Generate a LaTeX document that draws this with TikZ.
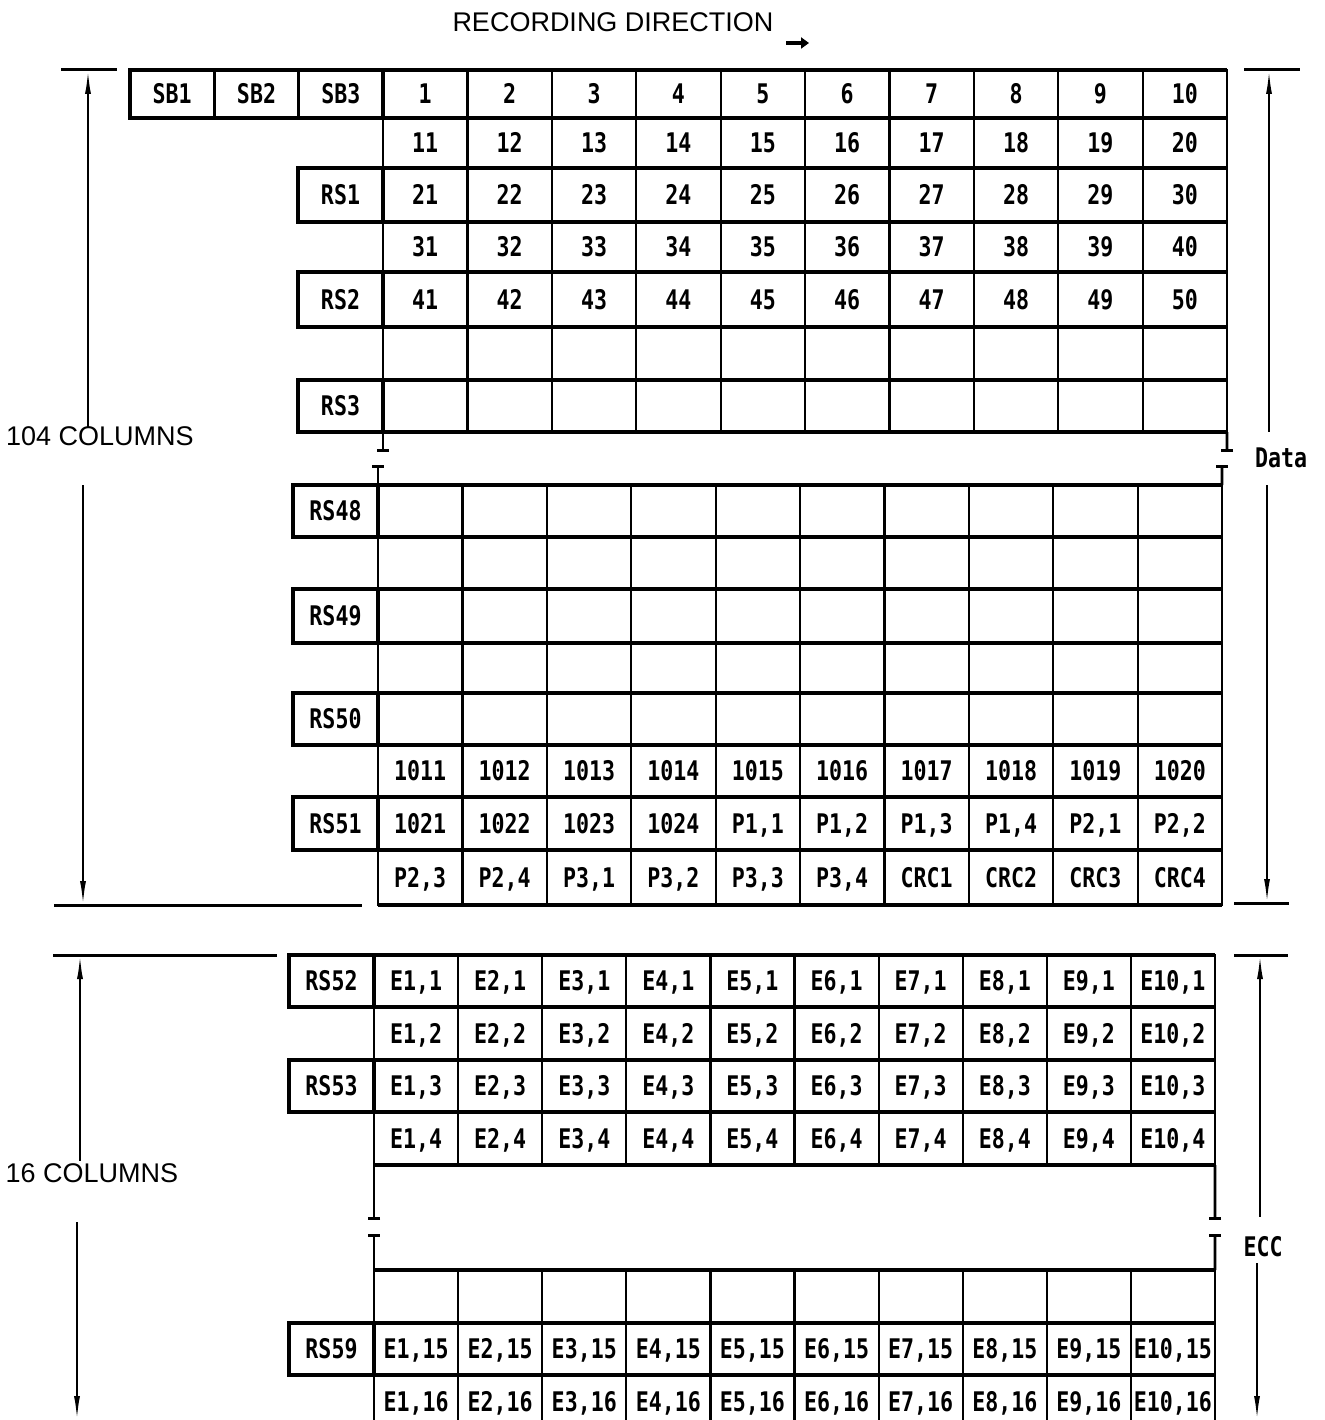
\documentclass[tikz,border=0pt]{standalone}
\usepackage{fontspec}
\setmainfont{Liberation Sans}
\newfontfamily\cellfont[FakeStretch=0.8]{DejaVu Sans Mono}
\usetikzlibrary{arrows.meta}
\tikzset{
  cell/.style={draw, line width=2.2pt, inner sep=0pt, outer sep=0pt,
    font=\cellfont\bfseries\fontsize{27}{30}\selectfont, text height=19.5pt, text depth=0pt},
  lbl/.style={cell, line width=3.4pt},
  hline/.style={line width=3.4pt},
  dimline/.style={line width=2pt},
  tickline/.style={line width=3pt},
  brk/.style={line width=2.6pt},
  plain/.style={font=\fontsize{27}{30}\selectfont, inner sep=0pt},
  bitlabel/.style={font=\cellfont\bfseries\fontsize{27}{30}\selectfont, inner sep=0pt},
}
% #1 prefix, #2 x0, #3 width, #4 ytop, #5 ybottom, #6 texts
\newcommand\cellrow[6]{\foreach \ct [count=\ci] in {#6} {\node[cell, minimum width=#3pt, minimum height={(#5-#4)*1pt}] (#1c\ci) at ({#2+(\ci-0.5)*#3},{(#4+#5)/2}) {\ct};}}
\newcommand\blankrow[5]{\foreach \ci in {1,...,10} {\node[cell, minimum width=#3pt, minimum height={(#5-#4)*1pt}] (#1c\ci) at ({#2+(\ci-0.5)*#3},{(#4+#5)/2}) {};}}
% #1 name, #2 xcenter, #3 ytop, #4 ybottom, #5 text
\newcommand\rslabel[5]{\node[lbl, minimum width=85pt, minimum height={(#4-#3)*1pt}] (#1) at (#2,{(#3+#4)/2}) {#5};}
\begin{document}
\begin{tikzpicture}[x=1pt,y=-1pt]
\useasboundingbox (0,0) rectangle (1324,1420);
\clip (0,0) rectangle (1324,1420);

% title
\node[plain] (title) at (613,22) {RECORDING DIRECTION};
\coordinate (dirA) at (786,43);
\coordinate (dirB) at (809,43);
\draw[line width=3.5pt,-{Triangle[length=8pt,width=11pt]}] (dirA) -- (dirB);

% ---------- Data block, upper part ----------
\node[lbl, minimum width=84.3pt, minimum height=48pt] (sb1) at (172.2,94) {SB1};
\node[lbl, minimum width=84.3pt, minimum height=48pt] (sb2) at (256.5,94) {SB2};
\node[lbl, minimum width=84.3pt, minimum height=48pt] (sb3) at (340.8,94) {SB3};
\cellrow{a1}{383}{84.4}{70}{118}{1,2,3,4,5,6,7,8,9,10}
\cellrow{a2}{383}{84.4}{118}{168}{11,12,13,14,15,16,17,18,19,20}
\rslabel{rs1}{340.5}{168}{222}{RS1}
\cellrow{a3}{383}{84.4}{168}{222}{21,22,23,24,25,26,27,28,29,30}
\cellrow{a4}{383}{84.4}{222}{272}{31,32,33,34,35,36,37,38,39,40}
\rslabel{rs2}{340.5}{272}{327}{RS2}
\cellrow{a5}{383}{84.4}{272}{327}{41,42,43,44,45,46,47,48,49,50}
\blankrow{a6}{383}{84.4}{327}{380}
\rslabel{rs3}{340.5}{380}{432}{RS3}
\blankrow{a7}{383}{84.4}{380}{432}

% ---------- Data block, lower part ----------
\rslabel{rs48}{335.5}{485}{537}{RS48}
\blankrow{b1}{378}{84.4}{485}{537}
\blankrow{b2}{378}{84.4}{537}{589}
\rslabel{rs49}{335.5}{589}{643}{RS49}
\blankrow{b3}{378}{84.4}{589}{643}
\blankrow{b4}{378}{84.4}{643}{693}
\rslabel{rs50}{335.5}{693}{745}{RS50}
\blankrow{b5}{378}{84.4}{693}{745}
\cellrow{b6}{378}{84.4}{745}{797}{1011,1012,1013,1014,1015,1016,1017,1018,1019,1020}
\rslabel{rs51}{335.5}{797}{850}{RS51}
\cellrow{b7}{378}{84.4}{797}{850}{1021,1022,1023,1024,{P1,1},{P1,2},{P1,3},{P1,4},{P2,1},{P2,2}}
\cellrow{b8}{378}{84.4}{850}{905}{{P2,3},{P2,4},{P3,1},{P3,2},{P3,3},{P3,4},CRC1,CRC2,CRC3,CRC4}

% ---------- ECC block ----------
\rslabel{rs52}{331.5}{955}{1007}{RS52}
\cellrow{c1}{374}{84.1}{955}{1007}{{E1,1},{E2,1},{E3,1},{E4,1},{E5,1},{E6,1},{E7,1},{E8,1},{E9,1},{E10,1}}
\cellrow{c2}{374}{84.1}{1007}{1060}{{E1,2},{E2,2},{E3,2},{E4,2},{E5,2},{E6,2},{E7,2},{E8,2},{E9,2},{E10,2}}
\rslabel{rs53}{331.5}{1060}{1112}{RS53}
\cellrow{c3}{374}{84.1}{1060}{1112}{{E1,3},{E2,3},{E3,3},{E4,3},{E5,3},{E6,3},{E7,3},{E8,3},{E9,3},{E10,3}}
\cellrow{c4}{374}{84.1}{1112}{1165}{{E1,4},{E2,4},{E3,4},{E4,4},{E5,4},{E6,4},{E7,4},{E8,4},{E9,4},{E10,4}}
\blankrow{c5}{374}{84.1}{1270}{1323}
\rslabel{rs59}{331.5}{1323}{1375}{RS59}
\cellrow{c6}{374}{84.1}{1323}{1375}{{E1,15},{E2,15},{E3,15},{E4,15},{E5,15},{E6,15},{E7,15},{E8,15},{E9,15},{E10,15}}
\cellrow{c7}{374}{84.1}{1375}{1428}{{E1,16},{E2,16},{E3,16},{E4,16},{E5,16},{E6,16},{E7,16},{E8,16},{E9,16},{E10,16}}

% heavier horizontal row rules
\foreach \rw in {a1,a2,a3,a4,a5,a6,a7,b1,b2,b3,b4,b5,b6,b7,b8,c1,c2,c3,c4,c5,c6,c7} {
  \draw[hline] (\rw c1.north west) -- (\rw c10.north east);
  \draw[hline] (\rw c1.south west) -- (\rw c10.south east);
}

% break marks (data)
\coordinate (bkAL) at (383,452);
\coordinate (bkBL) at (378,465);
\coordinate (bkAR) at (1227,452);
\coordinate (bkBR) at (1222,465);
\draw[brk,-{Bar[width=12pt,line width=3pt]}] (a7c1.south west) -- (bkAL);
\draw[brk,{Bar[width=12pt,line width=3pt]}-] (bkBL) -- (b1c1.north west);
\draw[brk,-{Bar[width=12pt,line width=3pt]}] (a7c10.south east) -- (bkAR);
\draw[brk,{Bar[width=12pt,line width=3pt]}-] (bkBR) -- (b1c10.north east);

% break marks (ECC)
\coordinate (bkCL) at (374,1220);
\coordinate (bkDL) at (374,1234);
\coordinate (bkCR) at (1215,1220);
\coordinate (bkDR) at (1215,1234);
\draw[brk,-{Bar[width=12pt,line width=3pt]}] (c4c1.south west) -- (bkCL);
\draw[brk,{Bar[width=12pt,line width=3pt]}-] (bkDL) -- (c5c1.north west);
\draw[brk,-{Bar[width=12pt,line width=3pt]}] (c4c10.south east) -- (bkCR);
\draw[brk,{Bar[width=12pt,line width=3pt]}-] (bkDR) -- (c5c10.north east);

% ---------- dimension brackets: Data ----------
\coordinate (dlt1) at (61,70);  \coordinate (dlt2) at (117,70);
\coordinate (dlu1) at (88,70);  \coordinate (dlu2) at (88,428);
\coordinate (dll1) at (83,485); \coordinate (dll2) at (83,905);
\coordinate (dlb1) at (54,905); \coordinate (dlb2) at (362,905);
\draw[tickline] (dlt1) -- (dlt2);
\draw[tickline] (dlb1) -- (dlb2);
\draw[dimline,{Latex[length=24pt,width=6pt]}-] (dlu1) -- (dlu2);
\draw[dimline,-{Latex[length=24pt,width=6pt]}] (dll1) -- (dll2);
\node[plain] (cols104) at (100,436) {104 COLUMNS};

\coordinate (drt1) at (1244,70);  \coordinate (drt2) at (1300,70);
\coordinate (dru1) at (1269,70);  \coordinate (dru2) at (1269,432);
\coordinate (drl1) at (1267,485); \coordinate (drl2) at (1267,903);
\coordinate (drb1) at (1234,903); \coordinate (drb2) at (1289,903);
\draw[tickline] (drt1) -- (drt2);
\draw[tickline] (drb1) -- (drb2);
\draw[dimline,{Latex[length=24pt,width=6pt]}-] (dru1) -- (dru2);
\draw[dimline,-{Latex[length=24pt,width=6pt]}] (drl1) -- (drl2);
\node[bitlabel] (datalbl) at (1281,458) {Data};

% ---------- dimension brackets: ECC ----------
\coordinate (elt1) at (53,955);  \coordinate (elt2) at (277,955);
\coordinate (elu1) at (80,955);  \coordinate (elu2) at (80,1161);
\coordinate (ell1) at (77,1222); \coordinate (ell2) at (77,1420);
\draw[tickline] (elt1) -- (elt2);
\draw[dimline,{Latex[length=24pt,width=6pt]}-] (elu1) -- (elu2);
\draw[dimline,-{Latex[length=24pt,width=6pt]}] (ell1) -- (ell2);
\node[plain] (cols16) at (92,1173) {16 COLUMNS};

\coordinate (ert1) at (1234,955);  \coordinate (ert2) at (1288,955);
\coordinate (eru1) at (1260,955);  \coordinate (eru2) at (1260,1217);
\coordinate (erl1) at (1257,1263); \coordinate (erl2) at (1257,1420);
\draw[tickline] (ert1) -- (ert2);
\draw[dimline,{Latex[length=24pt,width=6pt]}-] (eru1) -- (eru2);
\draw[dimline,-{Latex[length=24pt,width=6pt]}] (erl1) -- (erl2);
\node[bitlabel] (ecclbl) at (1263,1247) {ECC};
\end{tikzpicture}
\end{document}
